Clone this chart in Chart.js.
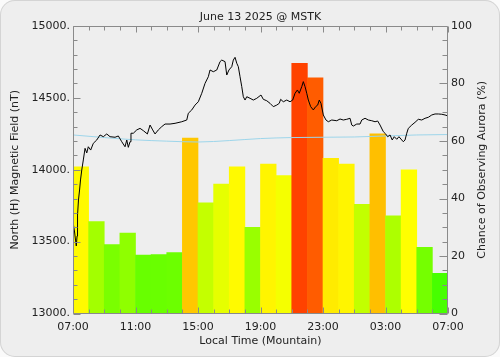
<!DOCTYPE html>
<html><head><meta charset="utf-8">
<script src="https://cdn.jsdelivr.net/npm/chart.js@4"></script>
<style>
html,body{margin:0;padding:0;background:#fafafa;}
#wrap{position:relative;width:500px;height:357px;border-radius:15px;overflow:hidden;background:#eeeeee;box-shadow:inset 0 0 0 1px #d4d4d4;}
canvas{position:absolute;left:0;top:0;}
</style></head>
<body><div id="wrap"><canvas id="c" width="500" height="357"></canvas></div>
<script>
// ---- data ----
const titleText = 'June 13 2025 @ MSTK';
const xTickLabels = ['07:00','11:00','15:00','19:00','23:00','03:00','07:00'];
const barHourLabels = ['07','08','09','10','11','12','13','14','15','16','17','18','19','20','21','22','23','00','01','02','03','04','05','06'];
const auroraChance = [51, 32, 24, 28, 20.3, 20.5, 21.2, 61, 38.5, 45, 51, 30, 52, 48, 87, 82, 54, 52, 38, 62.5, 34, 50, 23, 14];

const fieldHours = [0.03,0.1,0.16,0.21,0.26,0.29,0.35,0.42,0.48,0.56,
0.66,0.77,0.88,0.98,1.13,1.3,1.52,1.73,1.94,2.16,
2.37,2.69,2.9,3.12,3.33,3.44,3.54,3.65,3.71,3.86,
4.08,4.29,4.5,4.76,4.93,5.1,5.25,5.46,5.68,5.89,
6.21,6.53,6.96,7.28,7.38,7.6,7.81,8.02,8.24,8.45,
8.66,8.77,8.98,9.2,9.41,9.52,9.73,9.84,9.98,10.16,
10.26,10.37,10.48,10.58,10.69,10.8,10.9,11.01,11.12,11.33,
11.54,11.76,12.03,12.18,12.4,12.61,12.82,13.04,13.2,13.29,
13.46,13.68,13.89,14.06,14.21,14.36,14.48,14.64,14.74,14.85,
14.96,15.06,15.21,15.38,15.53,15.66,15.76,15.87,16.02,16.19,
16.34,16.56,16.88,17.09,17.3,17.52,17.73,17.84,17.94,18.16,
18.37,18.48,18.69,18.9,19.12,19.33,19.5,19.65,19.86,20.01,
20.14,20.29,20.43,20.56,20.72,20.86,21.04,21.14,21.25,21.36,
21.46,21.68,21.89,22.1,22.32,22.53,22.74,22.96,23.17,23.38,
23.6,23.81,24];
const fieldValues = [13616,13567,13511,13470,13539,13685,13790,13859,13929,13998,
14068,14149,14117,14160,14137,14184,14207,14242,14230,14249,
14230,14226,14235,14195,14160,14207,14156,14195,14254,14254,
14277,14288,14272,14249,14311,14277,14249,14277,14300,14318,
14318,14323,14334,14346,14393,14416,14450,14473,14532,14601,
14647,14694,14682,14694,14752,14763,14752,14659,14694,14717,
14763,14782,14741,14717,14647,14578,14508,14485,14508,14497,
14485,14497,14520,14490,14480,14462,14439,14450,14462,14490,
14473,14485,14473,14485,14532,14555,14532,14578,14613,14578,
14532,14485,14439,14416,14439,14450,14485,14462,14381,14346,
14334,14346,14341,14353,14346,14351,14358,14311,14304,14318,
14318,14346,14358,14346,14341,14334,14339,14311,14265,14249,
14230,14242,14207,14230,14212,14230,14207,14195,14207,14254,
14288,14311,14330,14351,14346,14358,14365,14381,14388,14388,
14386,14381,14374];

const baseHours = [0,2,4,6,8,10,12,14,16,18,20,22,24];
const baseValues = [14242,14224,14208,14199,14193,14203,14217,14224,14226,14228,14235,14242,14245];

// ---- style ----
const AXIS = '#8a8a8a';
const TEXT = '#222222';
const FONT = {family:'DejaVu Sans', size:11};

function chanceColor(v){
  if (v <= 50) return 'rgb(' + Math.round(255*v/50) + ',255,0)';
  return 'rgb(255,' + Math.round(255 - 255*(v-50)/50) + ',0)';
}

const framePlugin = {
  id:'frame',
  afterDatasetsDraw(chart){
    const {ctx, chartArea:a, scales} = chart;
    ctx.save();
    ctx.strokeStyle = AXIS; ctx.lineWidth = 1;
    const L = Math.round(a.left)+0.5, R = Math.round(a.right)-0.5, T = Math.round(a.top)+0.5, B = Math.round(a.bottom)-0.5;
    ctx.beginPath();
    ctx.rect(L, T, R-L, B-T);
    for (let h=0; h<=24; h++){
      const px = Math.round(scales.x.getPixelForValue(h))+0.5;
      const len = (h%4===0) ? 6 : 4;
      ctx.moveTo(px, B); ctx.lineTo(px, B-len);
      ctx.moveTo(px, T); ctx.lineTo(px, T+len);
    }
    for (let v=13000; v<=15000; v+=100){
      const py = Math.round(scales.y.getPixelForValue(v))+0.5;
      const len = (v%500===0) ? 7 : 4;
      ctx.moveTo(L, py); ctx.lineTo(L+len, py);
    }
    for (let v=0; v<=100; v+=5){
      const py = Math.round(scales.y1.getPixelForValue(v))+0.5;
      const len = (v%20===0) ? 8 : 5;
      ctx.moveTo(R, py); ctx.lineTo(R-len, py);
    }
    ctx.stroke();
    ctx.fillStyle = TEXT;
    ctx.font = '11px "DejaVu Sans"';
    ctx.textAlign = 'center'; ctx.textBaseline = 'middle';
    ctx.fillText(titleText, (a.left+a.right)/2, 17);
    ctx.translate(482, (a.top+a.bottom)/2);
    ctx.rotate(-Math.PI/2);
    ctx.fillText('Chance of Observing Aurora (%)', 0, 0);
    ctx.restore();
  }
};

new Chart(document.getElementById('c'), {
  data: {
    datasets: [
      { type:'line', label:'H', data: fieldHours.map((h,i)=>({x:h, y:fieldValues[i]})),
        yAxisID:'y', borderColor:'#000000', borderWidth:1, pointRadius:0, tension:0, order:0 },
      { type:'line', label:'base', data: baseHours.map((h,i)=>({x:h, y:baseValues[i]})),
        yAxisID:'y', borderColor:'#9dd5ea', borderWidth:1, pointRadius:0, cubicInterpolationMode:'monotone', order:1 },
      { type:'bar', label:'chance', data: auroraChance.map((v,i)=>({x:i+0.5, y:v})),
        yAxisID:'y1', backgroundColor: auroraChance.map(chanceColor), borderWidth:0,
        barPercentage:1, categoryPercentage:1, order:2 }
    ]
  },
  options: {
    responsive:false, animation:false,
    layout:{padding:{top:26, left:0, right:0, bottom:0}},
    plugins:{legend:{display:false}, tooltip:{enabled:false}},
    scales:{
      x:{ type:'linear', position:'bottom', min:0, max:24, offset:false,
          afterFit(s){ s.height = 43.5; },
          grid:{display:false, drawTicks:false, offset:false}, border:{display:false},
          ticks:{stepSize:4, padding:7, maxRotation:0, autoSkip:false, color:TEXT, font:FONT,
                 callback:(v)=> xTickLabels[v/4] ?? ''},
          title:{display:true, text:'Local Time (Mountain)', color:TEXT, font:FONT, padding:{top:0,bottom:9}} },
      y:{ type:'linear', position:'left', min:13000, max:15000,
          afterFit(s){ s.width = 73; },
          grid:{display:false, drawTicks:false}, border:{display:false},
          ticks:{stepSize:500, padding:3, color:TEXT, font:FONT, callback:(v)=> v + '.'},
          title:{display:true, text:'North (H) Magnetic Field (nT)', color:TEXT, font:FONT, padding:{top:9,bottom:0}} },
      y1:{ type:'linear', position:'right', min:0, max:100,
          afterFit(s){ s.width = 52; },
          grid:{display:false, drawTicks:false}, border:{display:false},
          ticks:{stepSize:20, padding:3, color:TEXT, font:FONT} }
    }
  },
  plugins:[framePlugin]
});
</script></body></html>
